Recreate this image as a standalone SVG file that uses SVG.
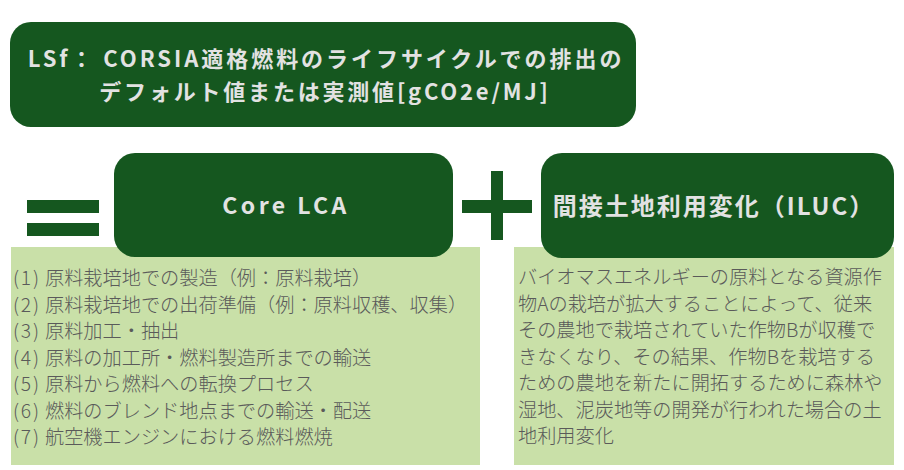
<svg xmlns="http://www.w3.org/2000/svg" width="904" height="470" viewBox="0 0 904 470">
<style>
.dark{fill:#15571f}
.light{fill:#c9e0a8}
.head{font-family:"Noto Sans CJK JP","Noto Sans",sans-serif;font-weight:700;fill:#e2e2e2}
.body{font-family:"Noto Sans CJK JP","Noto Sans",sans-serif;font-weight:300;font-size:19.2px;fill:#5a5a5a}
.num{letter-spacing:1.8px}
</style>
<rect width="904" height="470" fill="#ffffff"/>
<g id="title">
<rect class="dark" x="10" y="22" width="626" height="105" rx="21"/>
<text class="head" x="326" y="67" font-size="22" letter-spacing="2.95" text-anchor="middle">LSf： CORSIA適格燃料のライフサイクルでの排出の</text>
<text class="head" x="325" y="100" font-size="22" letter-spacing="2.8" text-anchor="middle">デフォルト値または実測値[gCO2e/MJ]</text>
</g>
<g id="equals">
<rect class="dark" x="27" y="200" width="72" height="13"/>
<rect class="dark" x="27" y="223" width="72" height="13"/>
</g>
<g id="core-lca-detail">
<rect class="light" x="11" y="247" width="469" height="218"/>
<text class="body" x="13" y="285"><tspan class="num">(1)</tspan><tspan x="45">原料栽培地での製造（例：原料栽培）</tspan></text>
<text class="body" x="13" y="311.5"><tspan class="num">(2)</tspan><tspan x="45">原料栽培地での出荷準備（例：原料収穫、収集）</tspan></text>
<text class="body" x="13" y="338"><tspan class="num">(3)</tspan><tspan x="45">原料加工・抽出</tspan></text>
<text class="body" x="13" y="364.5"><tspan class="num">(4)</tspan><tspan x="45">原料の加工所・燃料製造所までの輸送</tspan></text>
<text class="body" x="13" y="391"><tspan class="num">(5)</tspan><tspan x="45">原料から燃料への転換プロセス</tspan></text>
<text class="body" x="13" y="417.5"><tspan class="num">(6)</tspan><tspan x="45">燃料のブレンド地点までの輸送・配送</tspan></text>
<text class="body" x="13" y="444"><tspan class="num">(7)</tspan><tspan x="45">航空機エンジンにおける燃料燃焼</tspan></text>
</g>
<g id="iluc-detail">
<rect class="light" x="514" y="247" width="380" height="218"/>
<text class="body" x="518" y="284">バイオマスエネルギーの原料となる資源作</text>
<text class="body" x="518" y="310.5">物Aの栽培が拡大することによって、従来</text>
<text class="body" x="518" y="337">その農地で栽培されていた作物Bが収穫で</text>
<text class="body" x="518" y="363.5">きなくなり、その結果、作物Bを栽培する</text>
<text class="body" x="518" y="390">ための農地を新たに開拓するために森林や</text>
<text class="body" x="518" y="416.5">湿地、泥炭地等の開発が行われた場合の土</text>
<text class="body" x="518" y="443">地利用変化</text>
</g>
<g id="core-lca">
<rect class="dark" x="114" y="153" width="339" height="104" rx="21"/>
<text class="head" x="286" y="214" font-size="23" letter-spacing="3.4" text-anchor="middle">Core LCA</text>
</g>
<g id="plus">
<rect class="dark" x="462" y="200" width="70" height="13"/>
<rect class="dark" x="491" y="171" width="12" height="69"/>
</g>
<g id="iluc">
<rect class="dark" x="541" y="153" width="353" height="105" rx="21"/>
<text class="head" x="714" y="215" font-size="24" letter-spacing="2" text-anchor="middle">間接土地利用変化（ILUC）</text>
</g>
<g id="connectors"/>
</svg>
